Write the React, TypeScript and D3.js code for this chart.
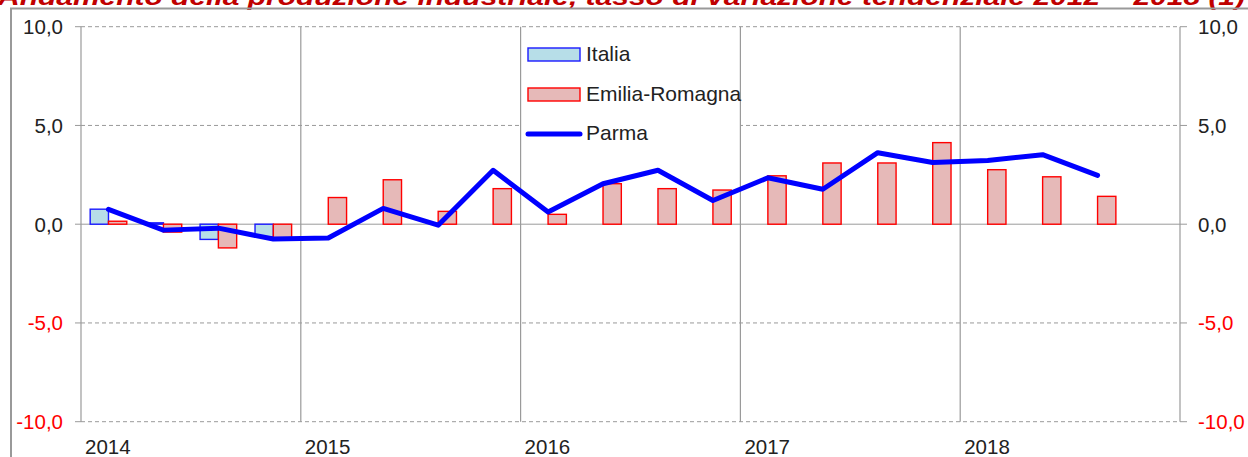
import React from "react";
import * as d3 from "d3";

const title = "Andamento della produzione industriale, tasso di variazione tendenziale 2012 – 2018 (1)";
const years = ["2014", "2015", "2016", "2017", "2018"];
const quarterSlots = 20;
const italia: (number | null)[] = [0.76, 0.07, -0.77, -0.65, null, null, null, null, null, null, null, null, null, null, null, null, null, null, null];
const emilia: (number | null)[] = [0.15, -0.4, -1.2, -0.8, 1.35, 2.25, 0.65, 1.8, 0.5, 2.05, 1.8, 1.73, 2.45, 3.1, 3.1, 4.13, 2.76, 2.4, 1.41];
const parma: number[] = [0.75, -0.3, -0.2, -0.75, -0.7, 0.8, -0.05, 2.73, 0.62, 2.05, 2.73, 1.2, 2.35, 1.77, 3.62, 3.12, 3.23, 3.52, 2.47];
const yTicks = [10, 5, 0, -5, -10];
const seriesNames = ["Italia", "Emilia-Romagna", "Parma"];

const FONT = "'Liberation Sans', Arial, sans-serif";
const GRID = "#9a9a9a";

export default function App() {
  const W = 1248, H = 457;
  const x = d3.scaleLinear().domain([0, quarterSlots]).range([81, 1180]);
  const y = d3.scaleLinear().domain([-10, 10]).range([421.7, 26.7]);
  const barW = 18.3;
  const fmt = (v: number) => d3.format(".1f")(v).replace(".", ",").replace("−", "-");
  const line = d3
    .line<number>()
    .x((_, i) => x(i + 0.5))
    .y((d) => y(d));

  const barRect = (v: number | null, i: number, side: number, fill: string, stroke: string) => {
    if (v == null) return null;
    const cx = x(i + 0.5);
    const x0 = side < 0 ? cx - barW : cx;
    const y0 = Math.min(y(v), y(0));
    const h = Math.abs(y(v) - y(0));
    return <rect key={`${side}-${i}`} x={x0} y={y0} width={barW} height={h} fill={fill} stroke={stroke} strokeWidth={1.4} />;
  };

  return (
    <svg width={W} height={H} style={{ position: "absolute", left: 0, top: 0 }} fontFamily={FONT}>
      <rect x={0} y={0} width={W} height={H} fill="#fff" />
      <text x={-2} y={5} fill="#C00000" fontWeight="bold" fontStyle="italic" fontSize={24} textLength={1247} lengthAdjust="spacingAndGlyphs">
        {title}
      </text>
      <rect x={11} y={8.5} width={W + 20} height={H + 20} fill="none" stroke="#999" strokeWidth={2} />

      {/* horizontal gridlines */}
      {yTicks.map((t) => (
        <line key={`g${t}`} x1={x(0)} x2={x(quarterSlots)} y1={y(t)} y2={y(t)} stroke={GRID} strokeWidth={1}
          strokeDasharray={t === 0 ? undefined : "4,3"} />
      ))}

      {/* legend background */}
      <rect x={522} y={32} width={218} height={116} fill="#fff" />

      {/* vertical year lines and axes */}
      {d3.range(0, quarterSlots + 1, 4).map((q) => (
        <line key={`v${q}`} x1={x(q)} x2={x(q)} y1={y(10)} y2={y(-10)} stroke={GRID} strokeWidth={1.2} />
      ))}
      {yTicks.map((t) => (
        <g key={`t${t}`}>
          <line x1={x(0) - 6} x2={x(0)} y1={y(t)} y2={y(t)} stroke={GRID} />
          <line x1={x(quarterSlots)} x2={x(quarterSlots) + 7} y1={y(t)} y2={y(t)} stroke={GRID} />
          <text x={63} y={y(t) + 7.5} textAnchor="end" fontSize={20.5} fill={t < 0 ? "#FF0000" : "#222"}>{fmt(t)}</text>
          <text x={1198} y={y(t) + 7.5} textAnchor="start" fontSize={20.5} fill={t < 0 ? "#FF0000" : "#222"}>{fmt(t)}</text>
        </g>
      ))}
      {years.map((yr, k) => (
        <text key={yr} x={x(k * 4) + 4} y={454} fontSize={20.5} fill="#222">{yr}</text>
      ))}

      {/* bars */}
      {italia.map((v, i) => barRect(v, i, -1, "#B7DEE8", "#1a1aff"))}
      {emilia.map((v, i) => barRect(v, i, 1, "#E6B9B8", "#FF0000"))}

      {/* Parma line */}
      <path d={line(parma) || ""} fill="none" stroke="#0000FF" strokeWidth={5} strokeLinejoin="round" strokeLinecap="round" />

      {/* legend */}
      <rect x={528} y={48} width={52} height={13} fill="#B7DEE8" stroke="#1a1aff" strokeWidth={1.4} />
      <text x={586} y={61} fontSize={21} fill="#222">{seriesNames[0]}</text>
      <rect x={528} y={88} width={52} height={13} fill="#E6B9B8" stroke="#FF0000" strokeWidth={1.4} />
      <text x={586} y={101} fontSize={21} fill="#222">{seriesNames[1]}</text>
      <line x1={528} x2={580} y1={134} y2={134} stroke="#0000FF" strokeWidth={5} strokeLinecap="round" />
      <text x={586} y={140} fontSize={21} fill="#222">{seriesNames[2]}</text>
    </svg>
  );
}
